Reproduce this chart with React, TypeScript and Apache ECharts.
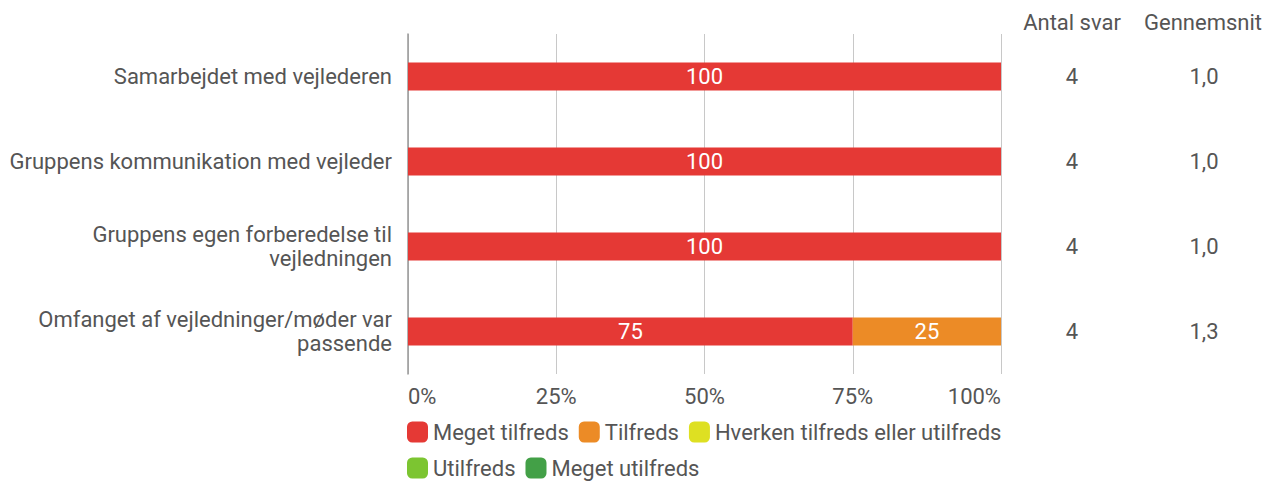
import React, { useEffect, useRef } from "react";
import * as echarts from "echarts";

const categories = [
  "Samarbejdet med vejlederen",
  "Gruppens kommunikation med vejleder",
  "Gruppens egen forberedelse til\nvejledningen",
  "Omfanget af vejledninger/møder var\npassende",
];
const seriesNames = [
  "Meget tilfreds",
  "Tilfreds",
  "Hverken tilfreds eller utilfreds",
  "Utilfreds",
  "Meget utilfreds",
];
const megetTilfreds = [100, 100, 100, 75];
const tilfreds = [0, 0, 0, 25];
const hverken = [0, 0, 0, 0];
const utilfreds = [0, 0, 0, 0];
const megetUtilfreds = [0, 0, 0, 0];
const antalSvar = ["4", "4", "4", "4"];
const gennemsnit = ["1,0", "1,0", "1,0", "1,3"];
const xTicks = [0, 25, 50, 75, 100];
const colors = ["#E53935", "#EC8B26", "#DEE022", "#7CC531", "#43A047"];

const textColor = "#555555";
const FONT = "Roboto";
const FS = 22;

export default function App() {
  const ref = useRef<HTMLDivElement>(null);
  useEffect(() => {
    const chart = echarts.init(ref.current!, null, { renderer: "svg" });
    const values = [megetTilfreds, tilfreds, hverken, utilfreds, megetUtilfreds];
    const series = seriesNames.map((name, i) => ({
      name,
      type: "bar",
      stack: "total",
      barWidth: 28,
      data: values[i],
      itemStyle: { color: colors[i] },
      label: {
        show: true,
        position: "inside",
        color: "#ffffff",
        fontSize: FS,
        fontFamily: FONT,
        formatter: (p: any) => (p.value > 0 ? String(p.value) : ""),
      },
    }));
    const legendText = { color: textColor, fontSize: FS, fontFamily: FONT, lineHeight: 22 };
    chart.setOption({
      animation: false,
      textStyle: { fontFamily: FONT },
      grid: { left: 408, width: 593, top: 34, height: 340, containLabel: false },
      xAxis: {
        type: "value",
        min: 0,
        max: 100,
        interval: 25,
        axisLine: { show: false },
        axisTick: { show: false },
        splitLine: { show: true, lineStyle: { color: "#c8c8c8", width: 1 } },
        axisLabel: {
          color: textColor,
          fontSize: FS,
          fontFamily: FONT,
          margin: 11,
          alignMinLabel: "left",
          alignMaxLabel: "right",
          formatter: (v: number) => (xTicks.includes(v) ? v + "%" : ""),
        },
      },
      yAxis: [
        {
          type: "category",
          data: categories,
          inverse: true,
          axisLine: { show: true, lineStyle: { color: "#999999", width: 1.5 } },
          axisTick: { show: false },
          axisLabel: {
            color: textColor,
            fontSize: FS,
            fontFamily: FONT,
            margin: 16,
            lineHeight: 24,
            align: "right",
          },
        },
        {
          type: "category",
          data: antalSvar,
          inverse: true,
          position: "right",
          axisLine: { show: false },
          axisTick: { show: false },
          axisLabel: { color: textColor, fontSize: FS, fontFamily: FONT, margin: 71, align: "center" },
        },
        {
          type: "category",
          data: gennemsnit,
          inverse: true,
          position: "right",
          offset: 0,
          axisLine: { show: false },
          axisTick: { show: false },
          axisLabel: { color: textColor, fontSize: FS, fontFamily: FONT, margin: 203, align: "center" },
        },
      ],
      graphic: [
        { type: "text", x: 1072, y: 22, style: { text: "Antal svar", fill: textColor, font: `${FS}px ${FONT}`, textAlign: "center", textVerticalAlign: "middle" } },
        { type: "text", x: 1203, y: 22, style: { text: "Gennemsnit", fill: textColor, font: `${FS}px ${FONT}`, textAlign: "center", textVerticalAlign: "middle" } },
      ],
      legend: [
        {
          data: seriesNames.slice(0, 3),
          left: 407,
          top: 421,
          padding: 0,
          itemWidth: 21,
          itemHeight: 21,
          itemGap: 10,
          icon: "roundRect",
          textStyle: legendText,
        },
        {
          data: seriesNames.slice(3),
          left: 407,
          top: 457,
          padding: 0,
          itemWidth: 21,
          itemHeight: 21,
          itemGap: 10,
          icon: "roundRect",
          textStyle: legendText,
        },
      ],
      series,
    });
    return () => chart.dispose();
  }, []);
  return (
    <div
      ref={ref}
      style={{ position: "absolute", left: 0, top: 0, width: 1265, height: 482 }}
    />
  );
}
